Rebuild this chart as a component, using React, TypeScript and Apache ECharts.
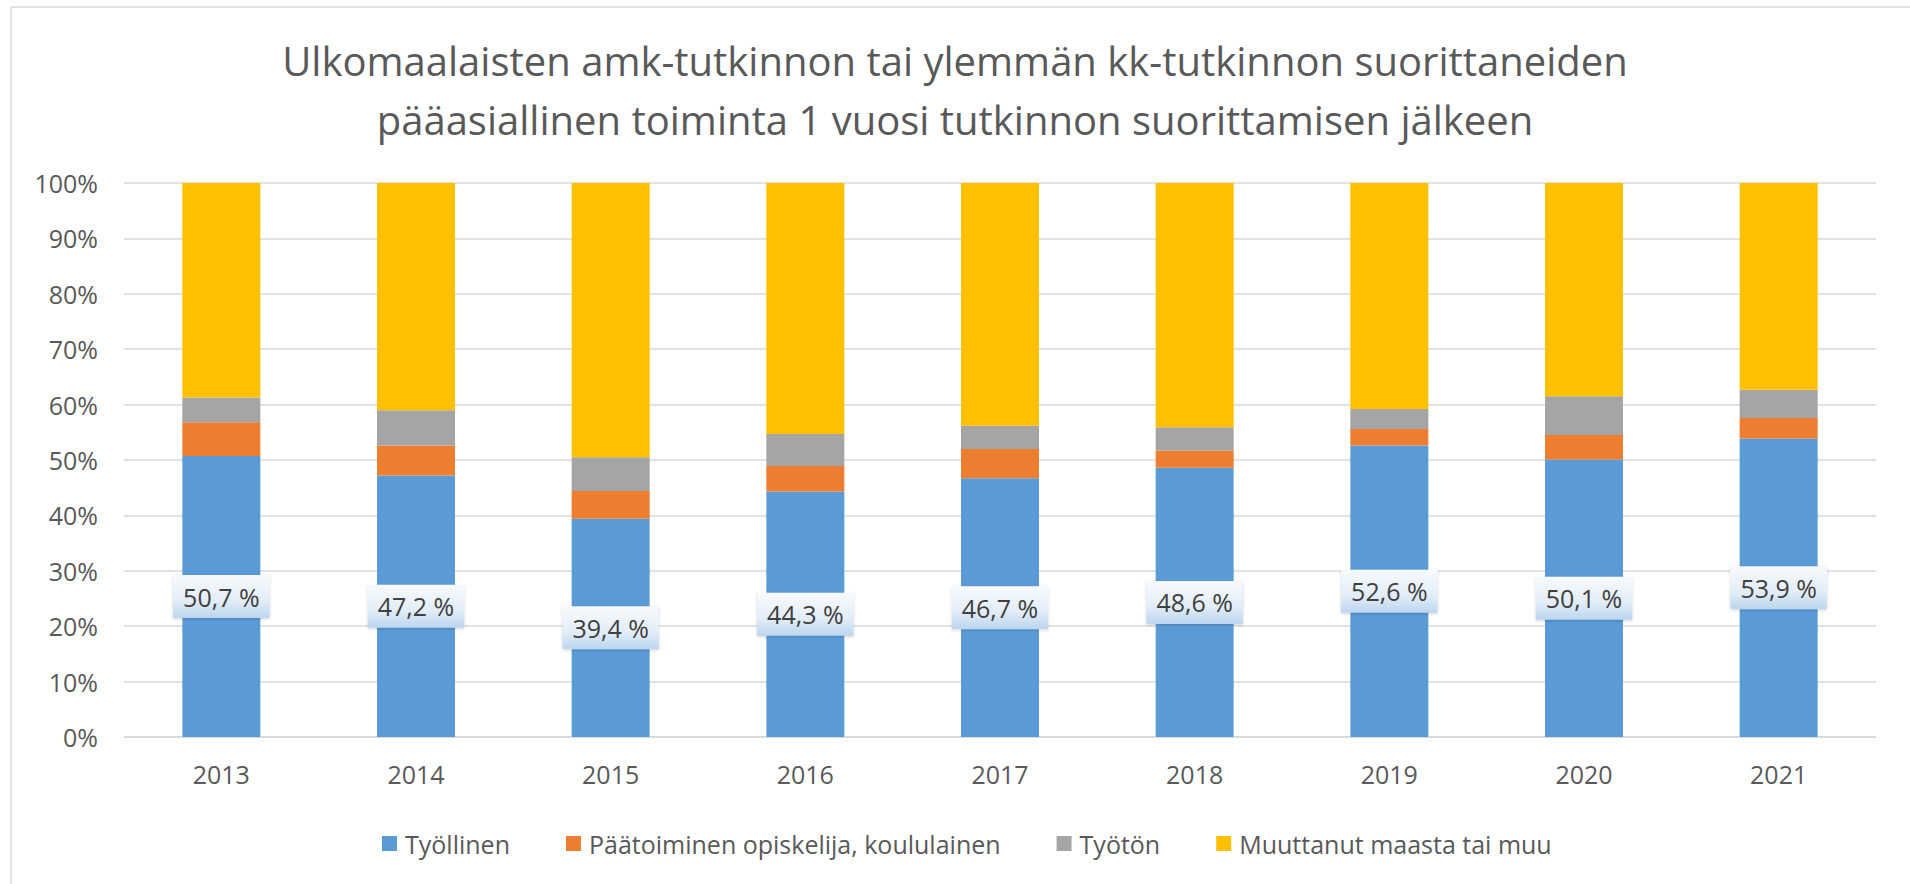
import React, { useEffect, useRef } from "react";
import * as echarts from "echarts";

const titleText =
  "Ulkomaalaisten amk-tutkinnon tai ylemmän kk-tutkinnon suorittaneiden\npääasiallinen toiminta 1 vuosi tutkinnon suorittamisen jälkeen";
const years = ["2013", "2014", "2015", "2016", "2017", "2018", "2019", "2020", "2021"];
const seriesNames = [
  "Työllinen",
  "Päätoiminen opiskelija, koululainen",
  "Työtön",
  "Muuttanut maasta tai muu",
];
const tyollinen = [50.7, 47.2, 39.4, 44.3, 46.7, 48.6, 52.6, 50.1, 53.9];
const opiskelija = [6.1, 5.4, 5.0, 4.6, 5.3, 3.1, 3.0, 4.4, 3.7];
const tyoton = [4.5, 6.4, 6.1, 5.8, 4.2, 4.2, 3.6, 7.0, 5.1];
const muuttanut = [38.7, 41.0, 49.5, 45.3, 43.8, 44.1, 40.8, 38.5, 37.3];
const colors = ["#5B9BD5", "#ED7D31", "#A5A5A5", "#FFC000"];

const FONT = "'Open Sans', 'Noto Sans', sans-serif";

export default function App() {
  const ref = useRef<HTMLDivElement>(null);
  useEffect(() => {
    if (!ref.current) return;
    const chart = echarts.init(ref.current, undefined, { renderer: "svg" });
    const values = [tyollinen, opiskelija, tyoton, muuttanut];
    const series = values.map((data, i) => ({
      name: seriesNames[i],
      type: "bar",
      stack: "total",
      barWidth: 78,
      data,
      itemStyle: { color: colors[i] },
      label:
        i === 0
          ? {
              show: true,
              position: "inside",
              formatter: (p: any) => p.value.toFixed(1).replace(".", ",") + " %",
              fontFamily: FONT,
              fontSize: 25,
              color: "#404040",
              lineHeight: 30,
              padding: [6, 10, 7, 10],
              backgroundColor: new echarts.graphic.LinearGradient(0, 0, 0, 1, [
                { offset: 0, color: "#f7fafd" },
                { offset: 0.6, color: "#e2edf8" },
                { offset: 1, color: "#bcd5ee" },
              ]),
              shadowColor: "rgba(0,0,0,0.18)",
              shadowBlur: 3,
              shadowOffsetX: 0,
              shadowOffsetY: 1,
            }
          : { show: false },
    }));
    chart.setOption({
      animation: false,
      backgroundColor: "#ffffff",
      textStyle: { fontFamily: FONT },
      title: {
        text: titleText,
        left: "center",
        top: 26,
        textStyle: {
          fontFamily: FONT,
          fontSize: 40,
          fontWeight: "normal",
          color: "#595959",
          lineHeight: 59,
        },
      },
      legend: {
        data: seriesNames,
        left: 377,
        top: 826,
        icon: "rect",
        itemWidth: 15,
        itemHeight: 15,
        itemGap: 56,
        textStyle: {
          fontFamily: FONT,
          fontSize: 25,
          color: "#595959",
          padding: [0, 0, 0, 3],
        },
      },
      grid: { left: 124, right: 34, top: 183, bottom: 147, containLabel: false },
      xAxis: {
        type: "category",
        data: years,
        axisLine: { show: true, lineStyle: { color: "#d9d9d9", width: 1.5 } },
        axisTick: { show: false },
        axisLabel: { fontFamily: FONT, fontSize: 25, color: "#595959", margin: 24 },
      },
      yAxis: {
        type: "value",
        min: 0,
        max: 100,
        interval: 10,
        axisLine: { show: false },
        axisTick: { show: false },
        splitLine: { lineStyle: { color: "#d9d9d9", width: 1.5 } },
        axisLabel: {
          fontFamily: FONT,
          fontSize: 25,
          color: "#595959",
          margin: 26,
          formatter: "{value}%",
        },
      },
      graphic: [
        {
          type: "line",
          shape: { x1: 11, y1: 7, x2: 1910, y2: 7 },
          style: { stroke: "#d9d9d9", lineWidth: 1.5 },
        },
        {
          type: "line",
          shape: { x1: 11, y1: 7, x2: 11, y2: 884 },
          style: { stroke: "#d9d9d9", lineWidth: 1.5 },
        },
      ],
      series,
    });
    return () => chart.dispose();
  }, []);
  return (
    <div
      ref={ref}
      style={{ position: "fixed", left: 0, top: 0, width: 1910, height: 884 }}
    />
  );
}
